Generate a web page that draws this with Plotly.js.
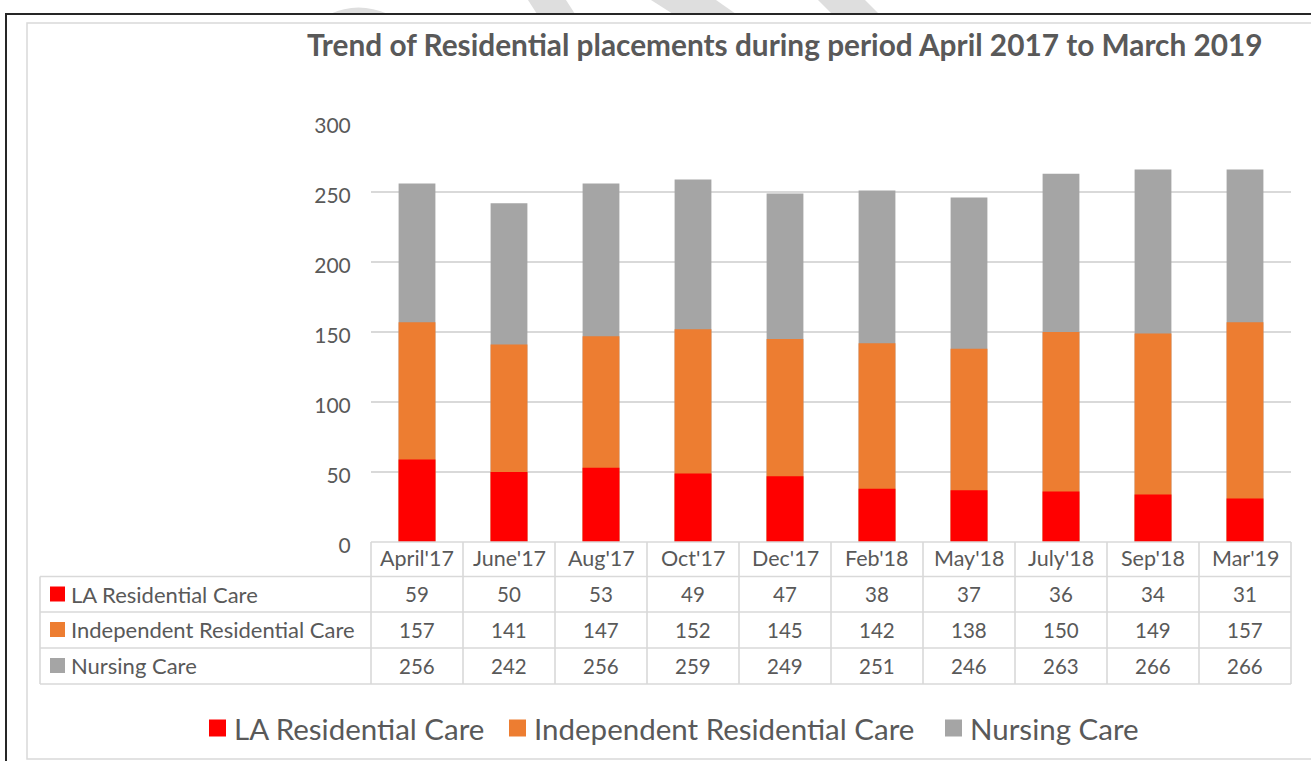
<!DOCTYPE html>
<html>
<head>
<meta charset="utf-8">
<script src="https://cdn.plot.ly/plotly-3.0.1.min.js"></script>
<style>
  html, body { margin: 0; padding: 0; background: #ffffff; }
  #chart { width: 1311px; height: 761px; }
</style>
</head>
<body>
<div id="chart"></div>
<script>
// ---------------- DATA ----------------
const categories = ["April'17", "June'17", "Aug'17", "Oct'17", "Dec'17", "Feb'18", "May'18", "July'18", "Sep'18", "Mar'19"];
const laResidentialCare = [59, 50, 53, 49, 47, 38, 37, 36, 34, 31];
const independentResidentialCare = [157, 141, 147, 152, 145, 142, 138, 150, 149, 157];
const nursingCare = [256, 242, 256, 259, 249, 251, 246, 263, 266, 266];
const seriesNames = ["LA Residential Care", "Independent Residential Care", "Nursing Care"];
const chartTitle = "Trend of Residential placements during period April 2017 to March 2019";
const yTicks = [0, 50, 100, 150, 200, 250, 300];

// ---------------- STYLE ----------------
const seriesColors = ["#FF0000", "#ED7D31", "#A5A5A5"];
const textColor = "#595959";
const gridColor = "#D9D9D9";
const FONT = "Lato, 'Open Sans', sans-serif";

const W = 1311, H = 761;
const M = { l: 371, r: 20, t: 122, b: 219 };
const plotW = W - M.l - M.r;   // 920
const plotH = H - M.t - M.b;   // 420
const X = px => (px - M.l) / plotW;
const Y = py => (H - M.b - py) / plotH;
const baseY = H - M.b; // 542

const seriesValues = [laResidentialCare, independentResidentialCare, nursingCare];

// Overlaid bars: tallest first
const traces = [2, 1, 0].map(i => ({
  type: 'bar',
  x: categories,
  y: seriesValues[i],
  name: seriesNames[i],
  marker: { color: seriesColors[i] },
  width: 0.4,
  showlegend: false,
  hoverinfo: 'x+y+name'
}));

const shapes = [];
const annotations = [];

// watermark fragments
const wmColor = "#DEDEDE";
const poly = pts => 'M' + pts.map(p => X(p[0]) + ',' + Y(p[1])).join(' L') + ' Z';
shapes.push({ type: 'path', xref: 'paper', yref: 'paper', layer: 'below', line: { width: 0 }, fillcolor: wmColor,
  path: 'M' + X(330) + ',' + Y(14) + ' Q' + X(358) + ',' + Y(1) + ' ' + X(388) + ',' + Y(14) + ' Z' });
[[[528,0],[566,0],[575,14],[537,14]],
 [[651,0],[716,0],[736,14],[673,14]],
 [[818,0],[865,0],[879,14],[832,14]]].forEach(p => {
  shapes.push({ type: 'path', xref: 'paper', yref: 'paper', layer: 'below', line: { width: 0 }, fillcolor: wmColor, path: poly(p) });
});

// outer black frame (top + left)
shapes.push({ type: 'path', xref: 'paper', yref: 'paper', line: { color: '#262626', width: 2 },
  path: 'M' + X(6) + ',' + Y(761) + ' L' + X(6) + ',' + Y(14) + ' L' + X(1311) + ',' + Y(14) });
// inner chart-area border
shapes.push({ type: 'path', xref: 'paper', yref: 'paper', line: { color: gridColor, width: 1.5 },
  path: 'M' + X(1311) + ',' + Y(23) + ' L' + X(27) + ',' + Y(23) + ' L' + X(27) + ',' + Y(759) + ' L' + X(1311) + ',' + Y(759) });

// ---------------- DATA TABLE ----------------
const tblLeft = 40;
const rowLines = [576.5, 612, 648, 684];
const tblBottom = 684;
const hLine = (x0, x1, y) => shapes.push({ type: 'line', xref: 'paper', yref: 'paper', x0: X(x0), x1: X(x1), y0: Y(y), y1: Y(y), line: { color: gridColor, width: 1.6 } });
const vLine = (x, y0, y1) => shapes.push({ type: 'line', xref: 'paper', yref: 'paper', x0: X(x), x1: X(x), y0: Y(y0), y1: Y(y1), line: { color: gridColor, width: 1.6 } });

hLine(M.l, M.l + plotW, baseY);
rowLines.forEach(y => hLine(tblLeft, M.l + plotW, y));
for (let i = 0; i <= categories.length; i++) vLine(M.l + i * plotW / categories.length, baseY, tblBottom);
vLine(tblLeft, rowLines[0], tblBottom);

const headerCenter = 558;
const rowCenters = [594, 629.5, 665.5];

categories.forEach(c => {
  annotations.push({ x: c, xref: 'x', y: 0, yref: 'paper', yshift: -(headerCenter - baseY), yanchor: 'middle',
    text: c, showarrow: false, font: { family: FONT, size: 21.5, color: textColor } });
});
seriesValues.forEach((vals, r) => {
  vals.forEach((v, i) => {
    annotations.push({ x: categories[i], xref: 'x', y: 0, yref: 'paper', yshift: -(rowCenters[r] - baseY), yanchor: 'middle',
      text: String(v), showarrow: false, font: { family: FONT, size: 20.5, color: textColor } });
  });
  // row key square
  shapes.push({ type: 'rect', xref: 'paper', yref: 'paper', x0: X(50), x1: X(65), y0: Y(rowCenters[r] - 7.5), y1: Y(rowCenters[r] + 7.5),
    fillcolor: seriesColors[r], line: { width: 0 } });
  annotations.push({ x: X(69), xref: 'paper', xanchor: 'left', y: Y(rowCenters[r]), yref: 'paper', yanchor: 'middle',
    text: seriesNames[r], showarrow: false, font: { family: FONT, size: 22, color: textColor } });
});

// ---------------- LEGEND (bottom) ----------------
const legendY = 728;
const legendSquareX = [209, 509, 945];
seriesNames.forEach((n, i) => {
  shapes.push({ type: 'rect', xref: 'paper', yref: 'paper', x0: X(legendSquareX[i]), x1: X(legendSquareX[i] + 17),
    y0: Y(legendY - 8.5), y1: Y(legendY + 8.5), fillcolor: seriesColors[i], line: { width: 0 } });
  annotations.push({ x: X(legendSquareX[i] + 23), xref: 'paper', xanchor: 'left', y: Y(legendY), yref: 'paper', yanchor: 'middle',
    text: n, showarrow: false, font: { family: FONT, size: 29.5, color: textColor } });
});

// ---------------- TITLE ----------------
annotations.push({ x: X(305), xref: 'paper', xanchor: 'left', y: Y(44), yref: 'paper', yanchor: 'middle',
  text: '<b>' + chartTitle + '</b>', showarrow: false, font: { family: FONT, size: 29.8, color: textColor } });

const layout = {
  width: W, height: H,
  margin: M,
  paper_bgcolor: '#ffffff',
  plot_bgcolor: '#ffffff',
  barmode: 'overlay',
  showlegend: false,
  xaxis: {
    type: 'category',
    showticklabels: false, showgrid: false, zeroline: false, showline: false, ticks: '',
    range: [-0.5, categories.length - 0.5]
  },
  yaxis: {
    range: [0, 300],
    tickvals: yTicks,
    showgrid: true, gridcolor: gridColor, gridwidth: 1.5,
    zeroline: false, showline: false,
    ticks: 'outside', ticklen: 15, tickcolor: 'rgba(0,0,0,0)',
    ticklabelshift: 4,
    tickfont: { family: FONT, size: 21, color: textColor }
  },
  shapes: shapes,
  annotations: annotations
};

Plotly.newPlot('chart', traces, layout, { displayModeBar: false, staticPlot: true });
</script>
</body>
</html>
